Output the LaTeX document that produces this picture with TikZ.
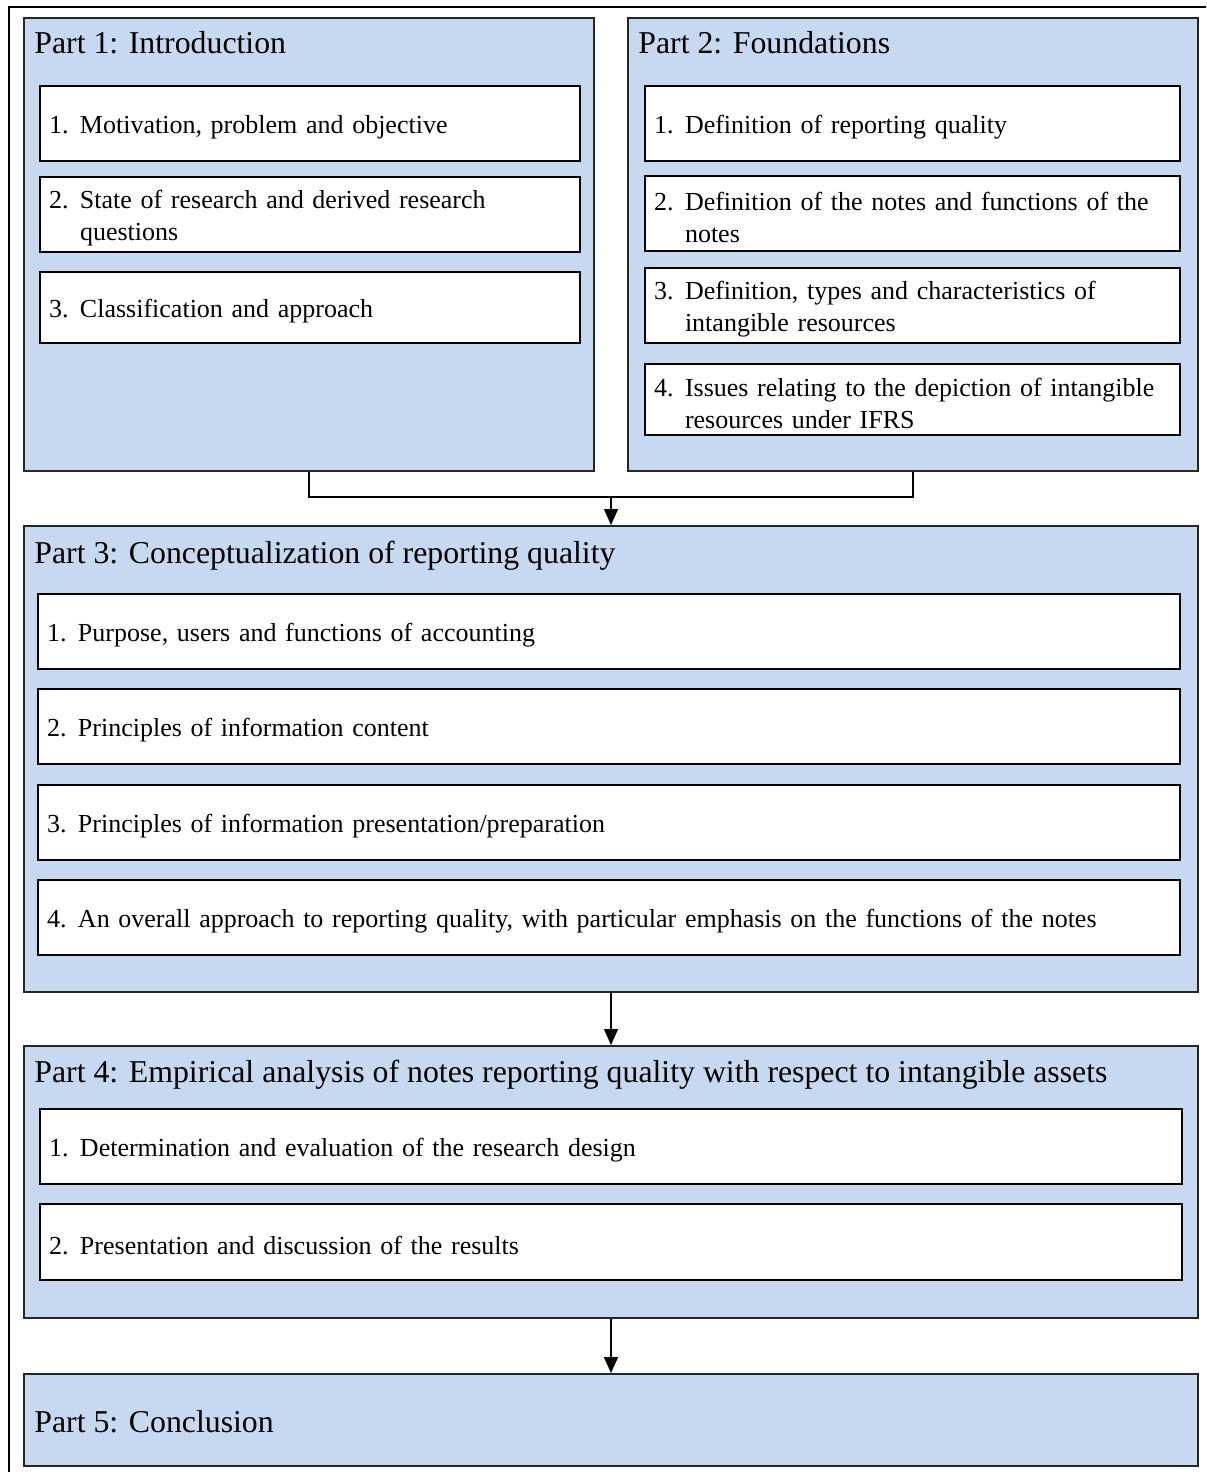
\documentclass[tikz,border=0pt]{standalone}
\usepackage{fontspec}
\setmainfont{Liberation Serif}
\newfontfamily\itemfont{Liberation Serif}[WordSpace=0.8]
\usetikzlibrary{arrows.meta}
\definecolor{partfill}{HTML}{C6D9F1}
% numbered entry: label followed by a block whose lines all start at the same indent
\newcommand\numlbl[2]{\makebox[15.5pt][l]{#1}\parbox[t]{\dimexpr\linewidth-15.5pt\relax}{\raggedright #2}}
% one numbered entry: box name, x, y, style prefix, box height, text
\newcommand\subentry[6]{%
  \node[#4box, minimum height=#5] (#1) at (#2,#3) {};
  \node[#4text] (#1-t) at ([yshift=-2pt]#1.center) {#6};}

\begin{document}
\begin{tikzpicture}[x=0.5pt,y=-0.5pt,
  partbox/.style={draw=black!85, line width=1pt, fill=partfill, inner sep=0pt},
  subbox/.style={draw=black, line width=1pt, fill=white, inner sep=0pt},
  subtext/.style={inner sep=0pt, align=left, font=\itemfont\fontsize{13pt}{16pt}\selectfont},
  narrowbox/.style={subbox, minimum width=270pt},
  narrowtext/.style={subtext, text width=261pt},
  narrowrbox/.style={subbox, minimum width=267.5pt},
  narrowrtext/.style={subtext, text width=258.5pt},
  widebox/.style={subbox, minimum width=571pt},
  widetext/.style={subtext, text width=562pt},
  parttitle/.style={anchor=base west, inner sep=0pt, font=\fontsize{15.9pt}{19pt}\selectfont},
  link/.style={line width=0.75pt},
  flow/.style={line width=0.75pt, -{Triangle[width=7pt,length=8pt]}}]

\useasboundingbox (0,0) rectangle (1206,1472);
\clip (0,0) rectangle (1206,1472);

% surrounding frame
\node[draw, line width=1pt, inner sep=0pt, anchor=north west,
      minimum width=610pt, minimum height=750pt] (frame) at (8,6) {};

% Part 1
\node[partbox, minimum width=285pt, minimum height=226.5pt] (p1) at (309,244.5) {};
\node[parttitle] (t1) at (34,53) {Part 1: Introduction};
\subentry{p1a}{310}{123.5}{narrow}{37.5pt}{\numlbl{1.}{Motivation, problem and objective}}
\subentry{p1b}{310}{214.5}{narrow}{37.5pt}{\numlbl{2.}{State of research and derived research\\questions}}
\subentry{p1c}{310}{307.5}{narrow}{35.5pt}{\numlbl{3.}{Classification and approach}}

% Part 2
\node[partbox, minimum width=285pt, minimum height=226.5pt] (p2) at (913,244.5) {};
\node[parttitle] (t2) at (638,53) {Part 2: Foundations};
\subentry{p2a}{912.5}{123.5}{narrowr}{37.5pt}{\numlbl{1.}{Definition of reporting quality}}
\subentry{p2b}{912.5}{213.5}{narrowr}{37.5pt}{\numlbl{2.}{Definition of the notes and functions of the\\notes}}
\subentry{p2c}{912.5}{305.5}{narrowr}{37.5pt}{\numlbl{3.}{Definition, types and characteristics of\\intangible resources}}
\subentry{p2d}{912.5}{399.5}{narrowr}{35.5pt}{\numlbl{4.}{Issues relating to the depiction of intangible\\resources under IFRS}}

% Part 3
\node[partbox, minimum width=587pt, minimum height=233pt] (p3) at (611,759) {};
\node[parttitle] (t3) at (34,563) {Part 3: Conceptualization of reporting quality};
\subentry{p3a}{609}{631.5}{wide}{37.5pt}{\numlbl{1.}{Purpose, users and functions of accounting}}
\subentry{p3b}{609}{726.5}{wide}{37.5pt}{\numlbl{2.}{Principles of information content}}
\subentry{p3c}{609}{822.5}{wide}{37.5pt}{\numlbl{3.}{Principles of information presentation/preparation}}
\subentry{p3d}{609}{917.5}{wide}{37.5pt}{\numlbl{4.}{An overall approach to reporting quality, with particular emphasis on the functions of the notes}}

% Part 4
\node[partbox, minimum width=587pt, minimum height=136pt] (p4) at (611,1182) {};
\node[parttitle] (t4) at (34,1082) {Part 4: Empirical analysis of notes reporting quality with respect to intangible assets};
\subentry{p4a}{611}{1146.5}{wide}{37.5pt}{\numlbl{1.}{Determination and evaluation of the research design}}
\subentry{p4b}{611}{1242}{wide}{38pt}{\numlbl{2.}{Presentation and discussion of the results}}

% Part 5
\node[partbox, minimum width=587pt, minimum height=46pt] (p5) at (611,1420) {};
\node[parttitle] (t5) at (34,1432) {Part 5: Conclusion};

% connectors
\coordinate (join) at (611,497);
\draw[link] (p1.south) |- (join) -| (p2.south);
\draw[flow] (join) -- (p3.north);
\draw[flow] (p3.south) -- (p4.north);
\draw[flow] (p4.south) -- (p5.north);
\end{tikzpicture}
\end{document}
